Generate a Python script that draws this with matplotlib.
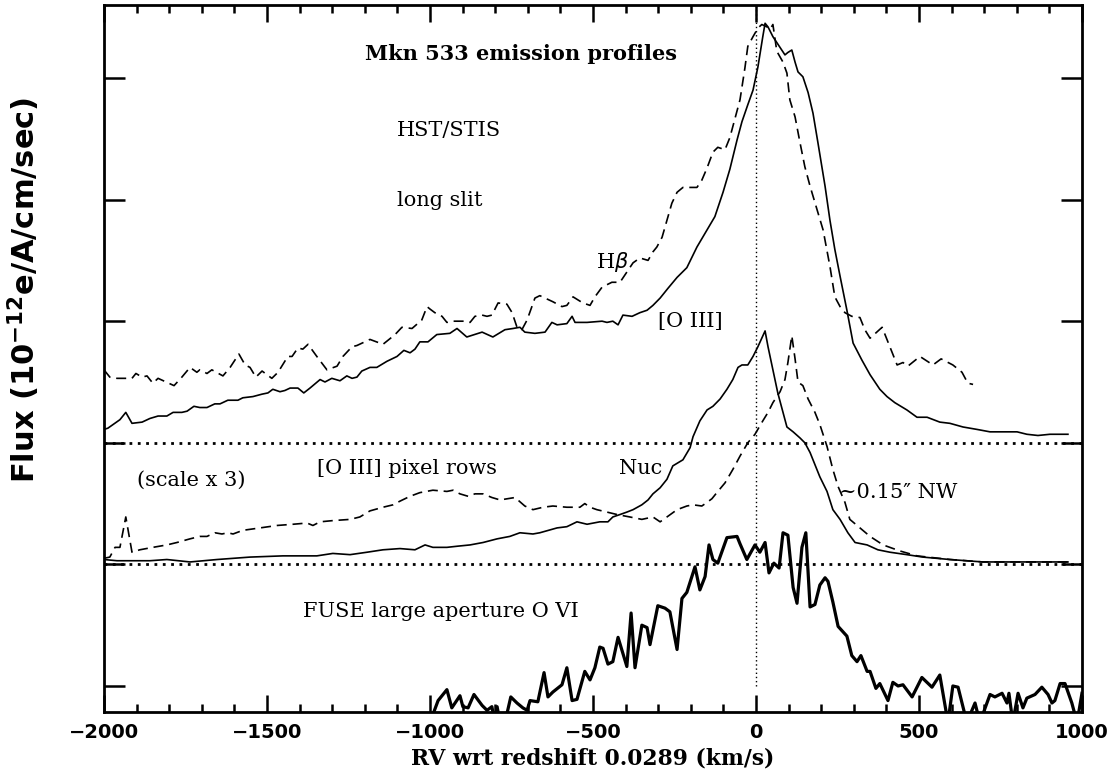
"""Mkn 533 emission profiles: HST/STIS long slit and FUSE O VI. Output: out.png"""
import matplotlib.pyplot as plt
from matplotlib.ticker import MultipleLocator, NullFormatter

# top panel (long slit), flux above the y=2 baseline
HB_V = [-2000, -1982, -1960, -1914, -1902, -1883, -1868, -1850, -1834, -1785, -1761, -1736,
        -1715, -1706, -1684, -1669, -1635, -1613, -1586, -1567, -1552, -1534, -1515, -1485,
        -1466, -1436, -1423, -1405, -1390, -1374, -1347, -1316, -1285, -1267, -1239, -1224,
        -1184, -1144, -1107, -1086, -1055, -1025, -1009, -1000, -985, -963, -948, -929, -893,
        -877, -862, -840, -825, -810, -791, -764, -748, -733, -718, -702, -678, -663, -623,
        -595, -580, -561, -531, -509, -494, -472, -442, -417, -402, -377, -356, -331, -316,
        -304, -288, -273, -258, -242, -224, -181, -166, -150, -132, -117, -95, -80, -65, -49,
        -34, -25, -9, 6, 18, 34, 43, 52, 64, 83, 95, 104, 120, 135, 150, 166, 187, 206, 227,
        242, 258, 273, 294, 319, 334, 350, 387, 433, 451, 466, 503, 543, 568, 604, 632, 650, 666]
HB_F = [0.60, 0.54, 0.53, 0.53, 0.57, 0.54, 0.55, 0.49, 0.53, 0.47, 0.54, 0.62,
        0.58, 0.60, 0.57, 0.60, 0.55, 0.62, 0.73, 0.64, 0.62, 0.54, 0.59, 0.53,
        0.58, 0.71, 0.71, 0.78, 0.77, 0.81, 0.71, 0.60, 0.63, 0.71, 0.79, 0.80,
        0.85, 0.81, 0.89, 0.95, 0.94, 1.01, 1.12, 1.10, 1.07, 1.04, 0.99, 1.00, 1.00,
        0.99, 1.04, 1.05, 1.04, 1.05, 1.15, 1.14, 1.07, 0.95, 0.93, 1.01, 1.19, 1.21, 1.16,
        1.12, 1.13, 1.20, 1.15, 1.13, 1.20, 1.28, 1.32, 1.32, 1.38, 1.48, 1.52, 1.50, 1.57,
        1.61, 1.69, 1.83, 1.97, 2.06, 2.10, 2.10, 2.16, 2.26, 2.39, 2.43, 2.41, 2.51, 2.66, 2.82,
        3.08, 3.26, 3.34, 3.41, 3.44, 3.42, 3.40, 3.44, 3.22, 3.13, 3.04, 2.82, 2.68, 2.47, 2.27,
        2.11, 1.92, 1.75, 1.45,
        1.20, 1.12, 1.07, 1.04, 1.03, 0.93, 0.86, 0.95, 0.64, 0.66, 0.63, 0.71, 0.64, 0.69,
        0.64, 0.58, 0.49, 0.48]

OIII_V = [-2000, -1988, -1951, -1933, -1914, -1883, -1859, -1834, -1807, -1788, -1761, -1745,
          -1724, -1706, -1684, -1660, -1644, -1620, -1604, -1589, -1574, -1543, -1515, -1497,
          -1482, -1460, -1445, -1429, -1405, -1387, -1368, -1337, -1322, -1301, -1276, -1255,
          -1239, -1224, -1209, -1184, -1163, -1132, -1101, -1080, -1061, -1046, -1031, -1006,
          -979, -939, -917, -887, -840, -807, -770, -745, -724, -709, -678, -647, -626, -610,
          -580, -564, -555, -518, -472, -457, -439, -423, -408, -380, -356, -334, -316, -294,
          -270, -242, -212, -181, -150, -126, -101, -80, -58, -43, -25, -9, 6, 21, 28, 37, 52,
          74, 89, 98, 110, 120, 129, 144, 160, 175, 190, 212, 227, 242, 258, 279, 298, 325,
          350, 380, 402, 426, 463, 494, 525, 564, 595, 635, 678, 718, 758, 801, 831, 865, 902,
          942, 957]
OIII_F = [0.11, 0.12, 0.19, 0.25, 0.16, 0.17, 0.20, 0.22, 0.22, 0.25, 0.25, 0.26,
          0.30, 0.29, 0.29, 0.32, 0.32, 0.35, 0.35, 0.35, 0.37, 0.38, 0.40, 0.41,
          0.44, 0.42, 0.43, 0.45, 0.45, 0.41, 0.45, 0.52, 0.50, 0.53, 0.51, 0.55,
          0.53, 0.54, 0.59, 0.62, 0.62, 0.67, 0.71, 0.76, 0.74, 0.77, 0.83, 0.83,
          0.89, 0.90, 0.94, 0.87, 0.91, 0.87, 0.93, 0.94, 0.95, 0.91, 0.90, 0.91, 0.99, 0.97,
          0.98, 1.04, 0.99, 0.99, 1.00, 0.99, 1.00, 0.97, 1.05, 1.04, 1.07, 1.09, 1.13, 1.19,
          1.27, 1.36, 1.44, 1.61, 1.75, 1.86, 2.06, 2.25, 2.49, 2.64, 2.78, 2.90, 3.09, 3.34,
          3.45, 3.42, 3.34,
          3.25, 3.19, 3.21, 3.23, 3.13, 3.05, 3.01, 2.88, 2.71, 2.47, 2.11, 1.83, 1.59, 1.37,
          1.09, 0.82, 0.68,
          0.56, 0.44, 0.38, 0.33, 0.27, 0.21, 0.21, 0.17, 0.16, 0.13, 0.11, 0.09, 0.09, 0.09,
          0.07, 0.06, 0.07, 0.07, 0.07]

# middle panel ([O III] pixel rows, scale x 3), flux above the y=1 baseline
NUC_V = [-2000, -1960, -1859, -1807, -1736, -1653, -1552, -1451, -1347, -1298, -1245, -1193,
         -1144, -1092, -1046, -1015, -991, -948, -914, -877, -837, -794, -755, -724, -684,
         -663, -610, -580, -549, -518, -479, -454, -439, -417, -396, -377, -350, -331, -316,
         -294, -273, -255, -224, -202, -193, -172, -150, -132, -110, -89, -71, -55, -43, -25,
         -9, 6, 28, 37, 52, 67, 83, 95, 114, 135, 150, 166, 181, 196, 218, 236, 258, 282, 304,
         341, 374, 411, 463, 512, 595, 696, 801, 902, 957]
NUC_F = [0.04, 0.03, 0.03, 0.04, 0.02, 0.04, 0.06, 0.07, 0.07, 0.09, 0.08, 0.10,
         0.12, 0.13, 0.12, 0.16, 0.14, 0.14, 0.15, 0.16, 0.18, 0.21, 0.23, 0.26, 0.25,
         0.26, 0.30, 0.31, 0.35, 0.33, 0.35, 0.35, 0.39, 0.41, 0.43, 0.45, 0.49, 0.53, 0.58,
         0.63, 0.70, 0.81, 0.86, 0.96, 1.05, 1.18, 1.27, 1.30, 1.36, 1.44, 1.52, 1.62, 1.64, 1.64,
         1.71, 1.79, 1.92, 1.79, 1.60, 1.41, 1.25, 1.13, 1.09, 1.04, 1.00, 0.92, 0.82, 0.72,
         0.60, 0.45, 0.37, 0.26, 0.18,
         0.16, 0.12, 0.10, 0.08, 0.06, 0.04, 0.02, 0.02, 0.02, 0.02]

NW_V = [-2000, -1982, -1966, -1951, -1933, -1914, -1890, -1850, -1807, -1776, -1736, -1706,
        -1684, -1660, -1638, -1620, -1604, -1574, -1521, -1469, -1420, -1377, -1359, -1337,
        -1298, -1245, -1215, -1184, -1144, -1113, -1092, -1061, -1031, -991, -948, -929, -908,
        -883, -862, -837, -810, -785, -739, -709, -684, -653, -623, -580, -540, -525, -509,
        -488, -457, -426, -387, -350, -316, -294, -273, -242, -212, -193, -166, -150, -135,
        -120, -95, -71, -49, -25, -3, 21, 37, 52, 74, 89, 98, 110, 120, 129, 144, 160, 181,
        196, 218, 236, 252, 273, 288, 319, 350, 390, 442, 494, 595, 696, 801, 957]
NW_F = [0.05, 0.06, 0.14, 0.14, 0.39, 0.10, 0.12, 0.14, 0.16, 0.18, 0.21, 0.23,
        0.23, 0.26, 0.25, 0.26, 0.25, 0.28, 0.30, 0.32, 0.33, 0.34, 0.32, 0.35,
        0.36, 0.37, 0.39, 0.44, 0.47, 0.49, 0.52, 0.56, 0.59, 0.61, 0.60, 0.61, 0.58,
        0.56, 0.58, 0.58, 0.55, 0.53, 0.55, 0.48, 0.45, 0.47, 0.48, 0.47, 0.47, 0.50, 0.47,
        0.45, 0.43, 0.41, 0.39, 0.37, 0.39, 0.35, 0.39, 0.45, 0.48, 0.49, 0.48, 0.51, 0.54,
        0.59, 0.67, 0.78, 0.89, 1.00, 1.07, 1.18, 1.25, 1.33, 1.42, 1.52, 1.66, 1.88, 1.69,
        1.50, 1.47, 1.36, 1.25,
        1.15, 0.97, 0.78, 0.64, 0.51, 0.37, 0.30, 0.23, 0.16, 0.11, 0.07, 0.04, 0.02, 0.02, 0.02]

# bottom panel (FUSE O VI), flux above the y=0 baseline
OVI_V = [-1000, -975, -948, -933, -908, -899, -883, -865, -840, -825, -810, -801, -794, -785,
         -770, -752, -733, -715, -702, -693, -669, -650, -638, -623, -595, -580, -564, -549,
         -525, -509, -494, -479, -469, -454, -439, -423, -396, -383, -371, -350, -334, -325,
         -301, -279, -264, -242, -227, -212, -187, -172, -156, -144, -132, -117, -89, -58, -49,
         -28, -3, 12, 28, 40, 55, 71, 83, 98, 114, 126, 141, 153, 166, 181, 196, 212, 221, 236,
         252, 279, 294, 310, 322, 341, 350, 368, 380, 405, 420, 436, 451, 479, 509, 540, 564,
         589, 604, 620, 647, 672, 687, 718, 733, 755, 770, 776, 788, 804, 819, 831, 856, 877,
         896, 908, 917, 933, 948, 969, 985, 1000]
OVI_F = [-0.30, -0.12, -0.03, -0.18, -0.08, -0.17, -0.18, -0.07, -0.16, -0.20, -0.17, -0.30,
         -0.17, -0.30, -0.30, -0.09, -0.14, -0.18, -0.20, -0.12, -0.13, 0.11, -0.09, -0.05, 0.01,
         0.15, -0.12, -0.11, 0.12, 0.05, 0.15, 0.32, 0.31, 0.18, 0.20, 0.40, 0.16, 0.60, 0.15,
         0.50, 0.48, 0.34, 0.66, 0.64, 0.61, 0.30, 0.72, 0.77, 0.98, 0.79, 0.90, 1.16, 1.04,
         1.01, 1.22, 1.23, 1.17, 1.04, 1.16, 1.10, 1.18, 0.93, 1.01, 0.97, 1.26, 1.24, 0.81,
         0.68, 1.14, 1.26, 0.65, 0.67, 0.83, 0.89, 0.86, 0.69, 0.49, 0.41, 0.25, 0.20, 0.25,
         0.12, 0.12, -0.02, 0.02, -0.12, 0.03, 0.00, 0.01, -0.09, 0.07, -0.01, 0.09, -0.30,
         0.00, -0.01, -0.30, -0.14, -0.30, -0.07, -0.09, -0.06, -0.14, -0.06, -0.30, -0.06,
         -0.18, -0.10, -0.07, -0.01, -0.07, -0.14, -0.12, 0.02, 0.02, -0.14, -0.30, -0.06]

TOP, MID = 2.0, 1.0
SERIF = "DejaVu Serif"


def shift(vals, off):
    return [v + off for v in vals]


def main():
    fig = plt.figure(figsize=(11.13, 7.74), dpi=100)
    ax = fig.add_axes([0.0934, 0.0801, 0.8787, 0.9134])

    dash = (0, (6, 3.5))
    ax.plot(HB_V, shift(HB_F, TOP), color="black", lw=1.2, ls=dash)
    ax.plot(OIII_V, shift(OIII_F, TOP), color="black", lw=1.2)
    ax.plot(NUC_V, shift(NUC_F, MID), color="black", lw=1.2)
    ax.plot(NW_V, shift(NW_F, MID), color="black", lw=1.2, ls=dash)
    ax.plot(OVI_V, OVI_F, color="black", lw=2.3)

    for base in (TOP, MID):
        ax.axhline(base, color="black", lw=2.0, ls=(0, (1, 2)))
    ylo, yhi = -0.214, 5.60
    ax.plot([0, 0], [0, yhi], color="black", lw=1.0, ls=(0, (1, 2)))

    ax.set_xlim(-2000, 1000)
    ax.set_ylim(ylo, yhi)
    ax.xaxis.set_major_locator(MultipleLocator(500))
    ax.xaxis.set_minor_locator(MultipleLocator(100))
    ax.yaxis.set_major_locator(MultipleLocator(1))
    ax.yaxis.set_major_formatter(NullFormatter())
    ax.tick_params(which="both", direction="in", top=True, right=True, width=1.8)
    ax.tick_params(which="major", axis="x", length=12)
    ax.tick_params(which="minor", axis="x", length=6)
    ax.tick_params(which="major", axis="y", length=15)
    ax.tick_params(axis="x", labelsize=14, pad=8)
    for lab in ax.get_xticklabels():
        lab.set_fontweight("bold")
    for sp in ax.spines.values():
        sp.set_linewidth(2.0)

    ax.set_xlabel("RV wrt redshift 0.0289 (km/s)", family=SERIF, fontsize=15.7,
                  fontweight="bold", labelpad=4)
    fig.text(0.021, 0.625, r"Flux (10$^{\mathbf{-12}}$e/A/cm/sec)", fontsize=22,
             fontweight="bold", rotation=90, ha="center", va="center")

    def note(x, y, s, **kw):
        ax.text(x, y, s, family=SERIF, fontsize=15, va="center", ha="left", **kw)

    note(-1200, 5.20, "Mkn 533 emission profiles", fontweight="bold")
    note(-1100, 4.57, "HST/STIS")
    note(-1100, 3.99, "long slit")
    note(-490, 3.49, r"H$\beta$")
    note(-300, 3.00, "[O III]")
    note(-1900, 1.69, "(scale x 3)")
    note(-1345, 1.79, "[O III] pixel rows")
    note(-420, 1.79, "Nuc")
    note(255, 1.59, "~0.15\u2033 NW")
    note(-1390, 0.61, "FUSE large aperture O VI")

    fig.savefig("out.png", dpi=100, facecolor="white")


if __name__ == "__main__":
    main()
